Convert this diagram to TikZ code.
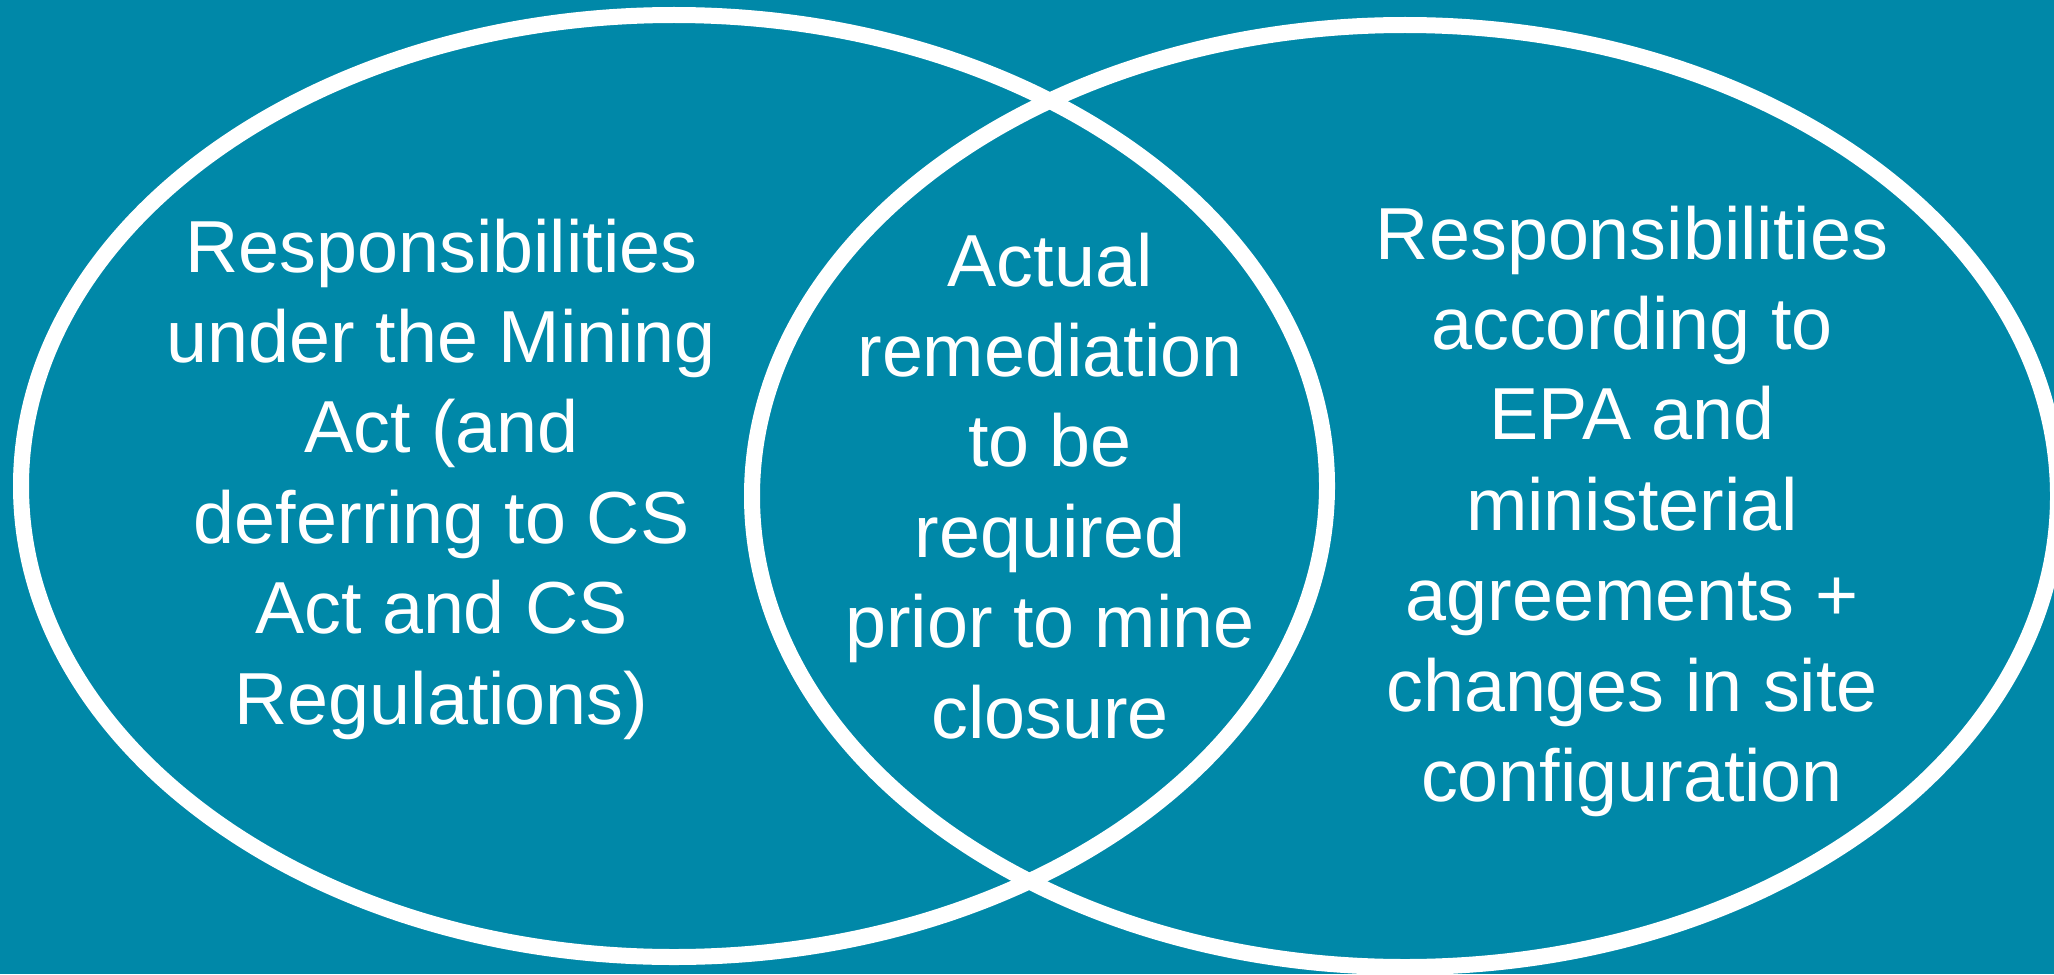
\documentclass[tikz,border=0pt]{standalone}
\usepackage{fontspec}
\setmainfont{Liberation Sans}
\definecolor{bgteal}{RGB}{0,136,168}
\begin{document}
\begin{tikzpicture}[x=0.5pt,y=-0.5pt,
  ring/.style={draw=white,line width=8pt},
  label/.style={text=white,inner sep=0pt,anchor=base,
    font=\fontsize{36.85}{45.2}\selectfont}]
\fill[bgteal] (0,0) rectangle (2054,974);
\useasboundingbox (0,0) rectangle (2054,974);
\draw[ring] (674,486) ellipse [x radius=326.5pt,y radius=235.5pt];
\draw[ring] (1405,496) ellipse [x radius=326.5pt,y radius=235.5pt];
\node[label] (left) at (441.5,272) {\begin{tabular}[t]{@{}c@{}}Responsibilities\\under the Mining\\Act (and\\deferring to CS\\Act and CS\\Regulations)\end{tabular}};
\node[label] (mid) at (1050,286) {\begin{tabular}[t]{@{}c@{}}Actual\\remediation\\to be\\required\\prior to mine\\closure\end{tabular}};
\node[label] (right) at (1632,259) {\begin{tabular}[t]{@{}c@{}}Responsibilities\\according to\\EPA and\\ministerial\\agreements +\\changes in site\\configuration\end{tabular}};
\end{tikzpicture}
\end{document}
